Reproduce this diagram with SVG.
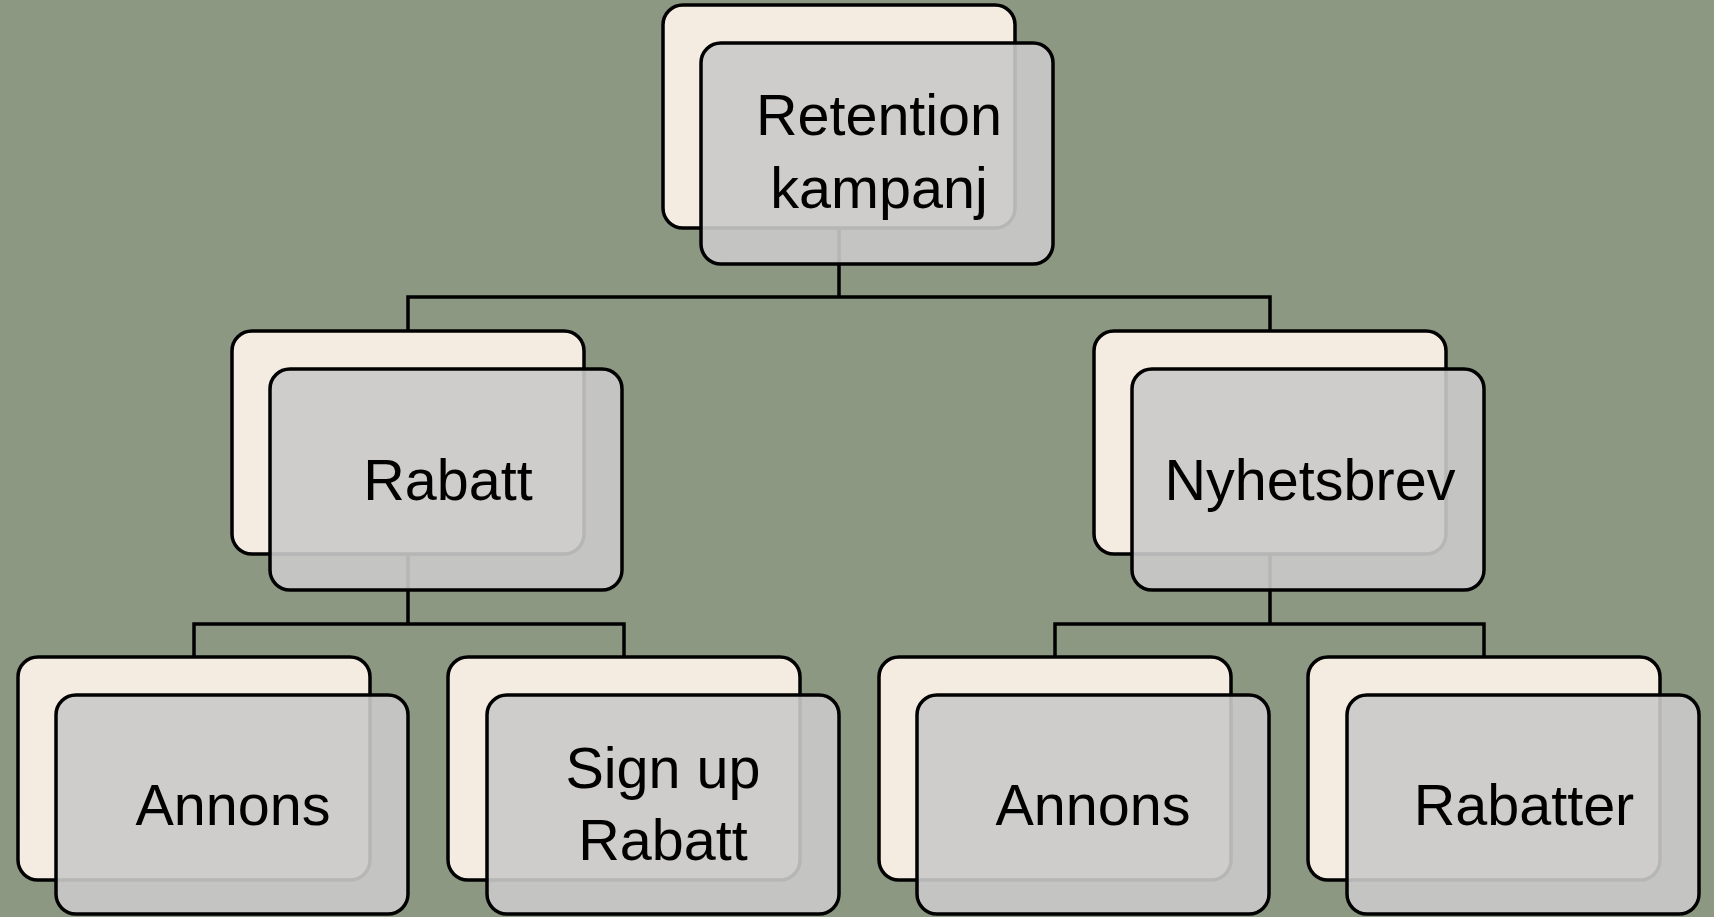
<svg xmlns="http://www.w3.org/2000/svg" width="1714" height="917" viewBox="0 0 1714 917">
<style>
.back{fill:#f5ece1;stroke:#000;stroke-width:3.5}
.front{fill:#cacaca;fill-opacity:0.9;stroke:#000;stroke-width:3.5}
.lbl{font-family:"Liberation Sans",Arial,sans-serif;font-size:57.5px;fill:#000;text-anchor:middle}
.conn{fill:none;stroke:#000;stroke-width:3.5}
</style>
<rect x="0" y="0" width="1714" height="917" fill="#8c9881"/>
<g id="connectors">
<path class="conn" d="M839 228 V297 M408 331 V297 H1270 V331"/>
<path class="conn" d="M408 554 V624 M194 657 V624 H624 V657"/>
<path class="conn" d="M1270 554 V624 M1055 657 V624 H1484 V657"/>
</g>
<g id="node-retention">
<rect class="back" x="663" y="5" width="352" height="223" rx="20"/>
<rect class="front" x="701" y="43" width="352" height="221" rx="20"/>
<text class="lbl" x="879" y="135">Retention</text>
<text class="lbl" x="879" y="208">kampanj</text>
</g>
<g id="node-rabatt">
<rect class="back" x="232" y="331" width="352" height="223" rx="20"/>
<rect class="front" x="270" y="369" width="352" height="221" rx="20"/>
<text class="lbl" x="448" y="500">Rabatt</text>
</g>
<g id="node-nyhetsbrev">
<rect class="back" x="1094" y="331" width="352" height="223" rx="20"/>
<rect class="front" x="1132" y="369" width="352" height="221" rx="20"/>
<text class="lbl" x="1310" y="500">Nyhetsbrev</text>
</g>
<g id="node-annons-1">
<rect class="back" x="18" y="657" width="352" height="223" rx="20"/>
<rect class="front" x="56" y="695" width="352" height="219" rx="20"/>
<text class="lbl" x="233" y="825">Annons</text>
</g>
<g id="node-signup">
<rect class="back" x="448" y="657" width="352" height="223" rx="20"/>
<rect class="front" x="487" y="695" width="352" height="219" rx="20"/>
<text class="lbl" x="663" y="788">Sign up</text>
<text class="lbl" x="663" y="860">Rabatt</text>
</g>
<g id="node-annons-2">
<rect class="back" x="879" y="657" width="352" height="223" rx="20"/>
<rect class="front" x="917" y="695" width="352" height="219" rx="20"/>
<text class="lbl" x="1093" y="825">Annons</text>
</g>
<g id="node-rabatter">
<rect class="back" x="1308" y="657" width="352" height="223" rx="20"/>
<rect class="front" x="1347" y="695" width="352" height="219" rx="20"/>
<text class="lbl" x="1524" y="825">Rabatter</text>
</g>
</svg>
